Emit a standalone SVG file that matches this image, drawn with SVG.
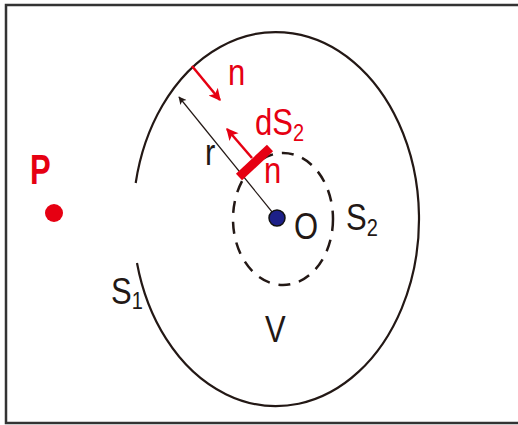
<svg xmlns="http://www.w3.org/2000/svg" width="518" height="425" viewBox="0 0 518 425">
<style>
.t{font-family:"Liberation Sans",Arial,sans-serif;font-size:31px;fill:#231815}
.r{fill:#e60012}
.sub{font-size:20px}
.curve{fill:none;stroke:#231815;stroke-width:2.2}
</style>
<defs>
<marker id="ah" viewBox="0 0 10 10" refX="9" refY="5" markerWidth="10" markerHeight="8" markerUnits="userSpaceOnUse" orient="auto">
<path d="M0,0 L10,5 L0,10 L2.5,5 Z" fill="#231815"/>
</marker>
<marker id="ahr" viewBox="0 0 10 10" refX="9" refY="5" markerWidth="14" markerHeight="12" markerUnits="userSpaceOnUse" orient="auto">
<path d="M0,0 L10,5 L0,10 L2.5,5 Z" fill="#e60012"/>
</marker>
</defs>
<rect x="0" y="0" width="518" height="425" fill="#fff"/>
<rect id="frame" x="6" y="5" width="530" height="418" fill="none" stroke="#333" stroke-width="2.5"/>
<g id="S1">
<path class="curve" d="M135.7,183 A143 187 0 1 1 137,263"/>
<text class="t" transform="translate(111,304) scale(1,1.2)">S<tspan class="sub" dy="4">1</tspan></text>
</g>
<g id="S2">
<ellipse cx="283" cy="219" rx="50" ry="66" fill="none" stroke="#231815" stroke-width="2.5" stroke-dasharray="12 9"/>
<text class="t" transform="translate(346,230) scale(1,1.2)">S<tspan class="sub" dy="5">2</tspan></text>
</g>
<g id="V"><text class="t" transform="translate(265,342) scale(1,1.2)">V</text></g>
<g id="P">
<text class="t r" transform="translate(30,184) scale(1,1.4)" font-size="26" font-weight="bold">P</text>
<circle cx="54" cy="213" r="9" fill="#e60012"/>
</g>
<g id="connectors">
<line x1="277" y1="218" x2="179" y2="97" stroke="#231815" stroke-width="1.2" marker-end="url(#ah)"/>
<line x1="192" y1="66" x2="220" y2="100" stroke="#e60012" stroke-width="2.5" marker-end="url(#ahr)"/>
<line x1="252" y1="158" x2="227" y2="129" stroke="#e60012" stroke-width="2.5" marker-end="url(#ahr)"/>
</g>
<g id="O">
<circle cx="277" cy="218" r="8" fill="#1d2088" stroke="#111" stroke-width="1.5"/>
<text class="t" transform="translate(294,239) scale(1,1.2)">O</text>
</g>
<g id="dS2">
<line x1="239" y1="177" x2="270" y2="148" stroke="#e60012" stroke-width="9"/>
<text class="t r" transform="translate(255,135) scale(1,1.2)">dS<tspan class="sub" dy="5">2</tspan></text>
<text class="t r" transform="translate(264,183) scale(1,1.2)">n</text>
</g>
<g id="labels">
<text class="t r" transform="translate(228,85) scale(1,1.2)">n</text>
<text class="t" transform="translate(205,165) scale(1,1.2)">r</text>
</g>
</svg>
